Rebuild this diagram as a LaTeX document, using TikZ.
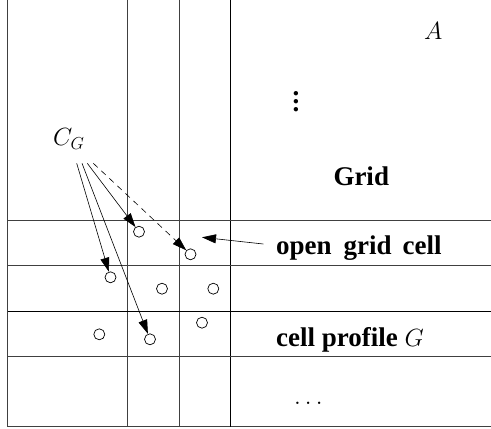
\documentclass[tikz,border=0pt]{standalone}
\usepackage{fontspec}
\setmainfont{Liberation Serif}
\usetikzlibrary{arrows.meta}
\begin{document}
\begin{tikzpicture}[x=1pt,y=-1pt,
  gridline/.style={draw=black!75, line width=0.8pt},
  darkline/.style={draw=black, line width=0.8pt},
  pt/.style={circle, draw, line width=0.7pt, minimum size=11pt, inner sep=0pt},
  arr/.style={line width=0.6pt, -{Triangle[length=14pt,width=9pt]}},
  lbl/.style={font=\fontsize{27}{32}\selectfont\bfseries, inner sep=0pt, anchor=base west},
  mlbl/.style={font=\fontsize{27}{32}\selectfont, inner sep=0pt, anchor=base west}]
\useasboundingbox (0,0) rectangle (491,429);
% grid
\draw[gridline] (7.5,0) -- (7.5,426.7) -- (491,426.7);
\draw[gridline] (127.7,0) -- (127.7,426.7);
\draw[gridline] (179.3,0) -- (179.3,426.7);
\draw[darkline] (230,0) -- (230,426.7);
\draw[gridline] (7.5,220.7) -- (491,220.7);
\draw[gridline] (7.5,265.7) -- (491,265.7);
\draw[darkline] (7.5,311) -- (491,311);
\draw[gridline] (7.5,356.7) -- (491,356.7);
% points
\node[pt] (c1) at (139,231.7) {};
\node[pt] (c2) at (190.5,254.3) {};
\node[pt] (c3) at (110.5,277.3) {};
\node[pt] (c4) at (162,288.7) {};
\node[pt] (c5) at (213.3,288.7) {};
\node[pt] (c6) at (99.3,334.3) {};
\node[pt] (c7) at (150,339.3) {};
\node[pt] (c8) at (202,322.7) {};
% labels
\node[mlbl] (cg) at (53,145.7) {$C_G$};
\node[mlbl] (A) at (424,39) {$A$};
\node[font=\fontsize{27}{32}\selectfont\bfseries, inner sep=0pt] (vd) at (296,101.7)
  {\vbox{\baselineskip8.3pt\lineskiplimit0pt\hbox{.}\hbox{.}\hbox{.}}};
\node[lbl] (grid) at (333.3,185.7) {Grid};
\node[lbl] (ogc) at (276,254.3) {open\hspace{12pt}grid\hspace{11pt}cell};
\node[lbl] (cp) at (276,346) {cell profile $G$};
\node[font=\fontsize{27}{32}\selectfont, inner sep=0pt, anchor=base] (hd) at (308.3,404) {$\ldots$};
% connectors
\coordinate (s1) at (76.7,163.3);
\coordinate (s2) at (82,163.3);
\coordinate (s3) at (87.3,163.3);
\coordinate (s4) at (93.3,163.3);
\coordinate (tip) at (202,237.3);
\draw[arr] (s1) -- (c3);
\draw[arr] (s2) -- (c7);
\draw[arr] (s3) -- (c1);
\draw[arr, dash pattern=on 6pt off 5pt] (s4) -- (c2);
\draw[arr] ([shift={(-12.7pt,10.3pt)}]ogc.base west) -- (tip);
\end{tikzpicture}
\end{document}
